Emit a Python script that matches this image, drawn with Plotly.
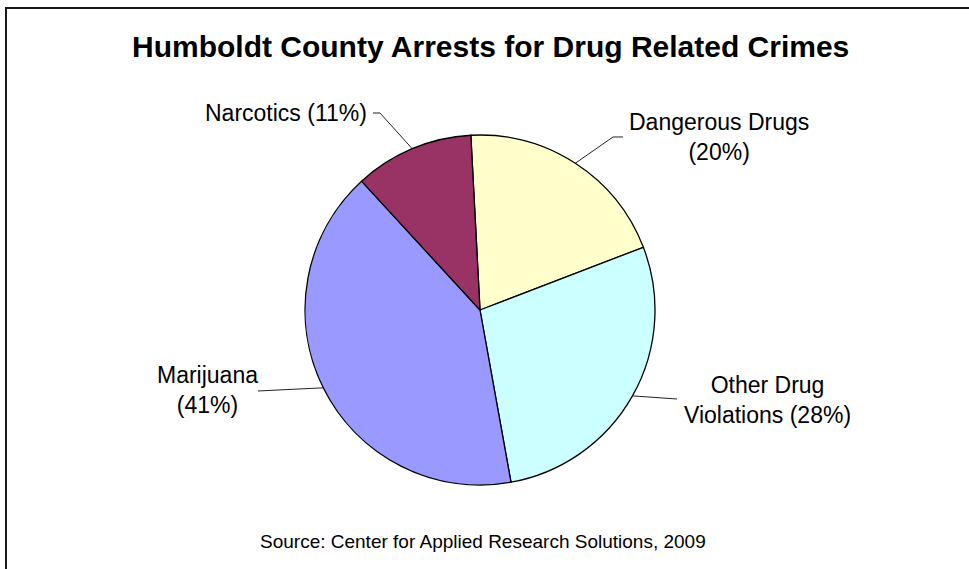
import math
import plotly.graph_objects as go

# Drug-related arrests by category (share of total, %)
categories = ["Dangerous Drugs", "Other Drug Violations", "Marijuana", "Narcotics"]
shares = [20, 28, 41, 11]
label_text = [
    "Dangerous Drugs<br>(20%)",
    "Other Drug<br>Violations (28%)",
    "Marijuana<br>(41%)",
    "Narcotics (11%)",
]
slice_colors = ["#FFFFCC", "#CCFFFF", "#9999FF", "#993366"]

W, H = 969, 569
FONT = "Arial, Liberation Sans, sans-serif"

# pie geometry in pixels
CX, CY, R = 480, 310, 175
ROTATION = -3  # degrees, clockwise from 12 o'clock

def px(x):
    return x / W

def py(y):
    return 1 - y / H

# label placement: text anchor, leader elbow and optional horizontal tail
label_layout = [
    dict(tx=719, ty=137, xanchor="center", elbow=(613, 137), tail=(623, 137)),
    dict(tx=767, ty=400, xanchor="center", elbow=(677, 399), tail=None),
    dict(tx=207, ty=390, xanchor="center", elbow=(258, 391), tail=None),
    dict(tx=369, ty=113, xanchor="right", elbow=(380, 113), tail=(373, 113)),
]

fig = go.Figure(
    go.Pie(
        labels=categories,
        values=shares,
        sort=False,
        direction="clockwise",
        rotation=ROTATION,
        marker=dict(colors=slice_colors, line=dict(color="#000000", width=1.3)),
        textinfo="none",
        hoverinfo="label+percent",
        showlegend=False,
        domain=dict(x=[px(CX - R), px(CX + R)], y=[py(CY + R), py(CY - R)]),
    )
)

shapes = []
annotations = []

# leader lines start at the middle of each slice's arc
total = sum(shares)
start = ROTATION
for value, text, lay in zip(shares, label_text, label_layout):
    span = 360 * value / total
    mid = math.radians(start + span / 2)
    start += span
    ex = CX + R * math.sin(mid)
    ey = CY - R * math.cos(mid)
    pts = [(ex, ey), lay["elbow"]]
    if lay["tail"]:
        pts.append(lay["tail"])
    path = "M " + " L ".join(f"{px(x):.5f},{py(y):.5f}" for x, y in pts)
    shapes.append(dict(type="path", xref="paper", yref="paper", path=path,
                       line=dict(color="#222222", width=1)))
    annotations.append(dict(
        x=px(lay["tx"]), y=py(lay["ty"]), xref="paper", yref="paper",
        text=text, showarrow=False, xanchor=lay["xanchor"], yanchor="middle",
        align="center", font=dict(family=FONT, size=23, color="#000000"),
    ))

# outer chart frame
shapes.append(dict(type="rect", xref="paper", yref="paper",
                   x0=px(6), y0=py(8), x1=px(W + 10), y1=py(H + 10),
                   line=dict(color="#1a1a1a", width=2), fillcolor="rgba(0,0,0,0)"))

annotations.append(dict(
    x=px(490), y=py(47), xref="paper", yref="paper",
    text="<b>Humboldt County Arrests for Drug Related Crimes</b>",
    showarrow=False, xanchor="center", yanchor="middle",
    font=dict(family=FONT, size=30, color="#000000"),
))
annotations.append(dict(
    x=px(483), y=py(541), xref="paper", yref="paper",
    text="Source: Center for Applied Research Solutions, 2009",
    showarrow=False, xanchor="center", yanchor="middle",
    font=dict(family=FONT, size=19, color="#000000"),
))

fig.update_layout(
    width=W, height=H,
    margin=dict(l=0, r=0, t=0, b=0),
    paper_bgcolor="#FFFFFF", plot_bgcolor="#FFFFFF",
    shapes=shapes, annotations=annotations,
)

fig.write_html("out.html")
